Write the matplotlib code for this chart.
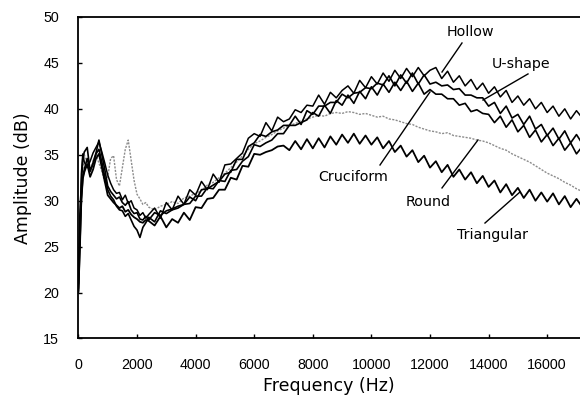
import matplotlib
matplotlib.use("Agg")
import matplotlib.pyplot as plt

# sampled frequencies (Hz), dense at the low end
freq_hz = [0, 50, 100, 150, 200, 300, 400, 500, 600, 700, 800, 900, 1000,
           1100, 1200, 1300, 1400, 1500, 1600, 1700, 1800, 1900, 2000, 2100,
           2200, 2300, 2400,
           2600, 2800, 3000, 3200, 3400, 3600, 3800, 4000,
           4200, 4400, 4600, 4800, 5000, 5200, 5400, 5600, 5800, 6000,
           6200, 6400, 6600, 6800, 7000, 7200, 7400, 7600, 7800, 8000,
           8200, 8400, 8600, 8800, 9000, 9200, 9400, 9600, 9800, 10000,
           10200, 10400, 10600, 10800, 11000, 11200, 11400, 11600, 11800, 12000,
           12200, 12400, 12600, 12800, 13000, 13200, 13400, 13600, 13800, 14000,
           14200, 14400, 14600, 14800, 15000, 15200, 15400, 15600, 15800, 16000,
           16200, 16400, 16600, 16800, 17000, 17200]

# amplitude (dB) for each section shape
hollow = [20.5, 26.8, 32.9, 35.1, 34.2, 33.6, 34.3, 35.2, 35.8, 36.4, 35.3, 34.1, 32.8,
          31.9, 31.2, 30.8, 30.9, 30.1, 30.6, 29.7, 30.0, 29.2, 29.0, 28.4,
          28.7, 28.1, 28.5,
          29.2, 28.1, 29.8, 29.0, 30.5, 29.6, 31.2, 30.6,
          32.1, 31.2, 32.9, 32.0, 33.9, 34.0, 34.6, 35.2, 36.8, 37.3,
          37.0, 38.5, 37.6, 39.1, 38.6, 38.9, 39.9, 39.6, 40.4, 40.3,
          41.5, 40.5, 41.8, 41.2, 42.0, 42.5, 41.7, 43.1, 42.3, 43.5,
          42.7, 43.9, 43.0, 44.2, 43.3, 44.4, 43.5, 44.5, 43.6, 44.2,
          44.5, 43.3, 44.1, 42.9, 43.6, 42.5, 43.2, 42.1, 42.8, 41.7,
          42.4, 41.3, 42.0, 40.7, 41.4, 40.4, 41.1, 40.0, 40.7, 39.6,
          40.3, 39.2, 40.0, 38.9, 39.8, 39.0]

u_shape = [21.0, 28.5, 31.8, 34.6, 35.3, 35.8, 33.2, 34.1, 35.2, 36.6, 35.0, 33.4, 31.6,
           31.0, 30.6, 30.2, 30.4, 29.8, 29.5, 29.9, 29.0, 28.6, 28.7, 28.0,
           27.9, 28.3, 27.9,
           28.7, 28.4, 28.9, 29.1, 29.4, 29.6, 30.4, 30.0,
           31.2, 31.3, 31.7, 32.1, 32.9, 33.1, 34.5, 34.5, 35.9, 36.3,
           37.2, 37.0, 37.5, 37.7, 38.2, 38.2, 39.2, 38.3, 39.8, 39.4,
           40.3, 40.3, 40.7, 40.7, 41.6, 41.2, 41.7, 41.8, 42.3, 42.2,
           42.8, 42.6, 43.6, 42.5, 43.7, 42.8, 43.9, 42.7, 43.7, 42.7,
           42.9, 42.5, 42.6, 42.1, 42.2, 41.5, 41.5, 41.2, 41.2, 40.3,
           40.7, 39.5, 40.3, 39.0, 39.4, 38.3, 39.2, 37.8, 38.3, 37.1,
           37.9, 36.7, 37.6, 36.3, 37.2, 36.2]

cruciform = [20.0, 24.5, 30.2, 32.5, 33.4, 34.6, 33.3, 34.0, 35.1, 35.6, 34.2, 32.6, 31.2,
             30.5, 30.1, 29.4, 29.0, 28.9, 28.3, 28.6, 27.9, 27.2, 26.8, 26.0,
             27.1, 27.6, 28.2,
             27.7, 28.9, 28.6, 29.0, 29.2, 29.6, 29.7, 30.5,
             30.5, 31.4, 31.3, 32.2, 32.1, 33.3, 33.4, 34.3, 34.8, 36.1,
             35.9, 36.3, 36.6, 37.3, 37.3, 38.2, 38.2, 38.5, 38.8, 39.6,
             39.2, 40.4, 39.5, 40.9, 40.4, 41.5, 40.6, 41.9, 41.1, 42.4,
             41.5, 42.7, 41.8, 42.9, 42.0, 43.0, 41.9, 42.8, 41.6, 42.1,
             41.6, 41.6, 41.1, 41.1, 40.4, 40.6, 39.7, 39.9, 39.5, 39.4,
             38.5, 39.2, 38.0, 38.8, 37.5, 38.2, 36.9, 37.7, 36.4, 37.2,
             36.0, 36.8, 35.5, 36.3, 35.1, 35.9]

round_ = [21.0, 27.5, 31.2, 33.5, 35.0, 34.2, 33.0, 34.4, 35.0, 34.1, 33.2, 32.0, 32.6,
          34.6, 34.9, 32.3, 31.6, 33.6, 35.6, 36.6, 34.4, 32.2, 30.7, 30.2,
          29.6, 29.8, 29.3,
          29.0, 29.4, 29.6, 29.9, 29.7, 30.3, 30.5, 30.8,
          31.1, 31.7, 32.0, 32.5, 33.0, 33.6, 34.2, 34.9, 35.6, 36.2,
          36.5, 36.9, 37.2, 37.6, 37.9, 38.2, 38.4, 38.7, 38.9, 39.1,
          39.3, 39.2, 39.5, 39.6, 39.5, 39.7, 39.6, 39.4, 39.5, 39.3,
          39.1, 39.2, 38.9, 38.8, 38.6, 38.4, 38.3, 38.0, 37.8, 37.6,
          37.5, 37.3, 37.4, 37.1, 37.0, 36.9, 36.8, 36.6, 36.5, 36.3,
          36.0, 35.7, 35.5, 35.1, 34.8, 34.5, 34.2, 33.8, 33.4, 33.0,
          32.7, 32.4, 32.0, 31.7, 31.3, 31.0]

triangular = [20.2, 25.5, 30.0, 32.4, 33.1, 34.0, 32.6, 33.4, 34.6, 35.1, 33.6, 32.1, 30.6,
              30.2, 29.8, 29.5, 29.2, 29.4, 28.8, 29.0, 28.5, 28.2, 28.0, 27.7,
              27.6, 27.9, 27.8,
              27.3, 28.3, 27.1, 28.0, 27.6, 28.7, 27.9, 29.3,
              29.2, 30.2, 30.3, 31.2, 31.2, 32.5, 32.3, 33.8, 33.7, 35.1,
              35.0, 35.3, 35.5, 35.9, 36.0, 35.5, 36.5, 35.6, 36.7, 35.7,
              36.8, 35.8, 37.0, 36.1, 37.2, 36.3, 37.3, 36.2, 37.1, 36.1,
              36.9, 35.7, 36.5, 35.3, 36.0, 34.8, 35.5, 34.2, 34.9, 33.6,
              34.3, 33.1, 33.9, 32.6, 33.4, 32.3, 33.1, 31.9, 32.7, 31.5,
              32.2, 30.9, 31.8, 30.6, 31.4, 30.3, 31.2, 30.0, 30.9, 29.9,
              30.8, 29.6, 30.5, 29.3, 30.2, 29.3]

x_ticks = [0, 2000, 4000, 6000, 8000, 10000, 12000, 14000, 16000]
y_ticks = [15, 20, 25, 30, 35, 40, 45, 50]

fig = plt.figure(figsize=(5.8, 3.98), dpi=100)
ax = fig.add_axes([0.1352, 0.1495, 0.8648, 0.8078])

# gray one first so the black curves sit on top
ax.plot(freq_hz, round_, color="#8c8c8c", lw=1.0, linestyle=(0, (1.5, 1)))
ax.plot(freq_hz, triangular, color="black", lw=1.3)
ax.plot(freq_hz, cruciform, color="black", lw=1.2)
ax.plot(freq_hz, u_shape, color="black", lw=1.2)
ax.plot(freq_hz, hollow, color="black", lw=1.1)

ax.set_xlim(0, 17120)
ax.set_ylim(15, 50)
ax.set_xticks(x_ticks)
ax.set_yticks(y_ticks)
ax.spines["right"].set_visible(False)
for s in ["left", "top", "bottom"]:
    ax.spines[s].set_linewidth(1.3)
ax.tick_params(direction="in", length=3, width=1, pad=14, right=False, top=False)
for lab in ax.get_xticklabels() + ax.get_yticklabels():
    lab.set_fontfamily("Liberation Sans")
    lab.set_fontsize(10.3)

ax.set_xlabel("Frequency (Hz)", family="DejaVu Sans", fontsize=12.5, labelpad=4)
ax.set_ylabel("Amplitude (dB)", family="DejaVu Sans", fontsize=12.5, labelpad=8)

# callout labels: (text, text pos, line start, line end)
callouts = [
    ("Hollow", (13365, 48.37), (13092, 47.17), (12410, 44.01)),
    ("U-shape", (15106, 44.88), (15345, 43.80), (13809, 40.96)),
    ("Cruciform", (9372, 32.58), (10294, 33.89), (12000, 41.84)),
    ("Round", (11932, 29.86), (12410, 31.39), (13638, 36.61)),
    ("Triangular", (14150, 26.27), (13877, 27.57), (15072, 30.95)),
]
for name, tpos, p0, p1 in callouts:
    ax.text(tpos[0], tpos[1], name, ha="center", va="center",
            family="DejaVu Sans", fontsize=10.3)
    ax.plot([p0[0], p1[0]], [p0[1], p1[1]], color="black", lw=1.0)

fig.savefig("out.png", dpi=100)
